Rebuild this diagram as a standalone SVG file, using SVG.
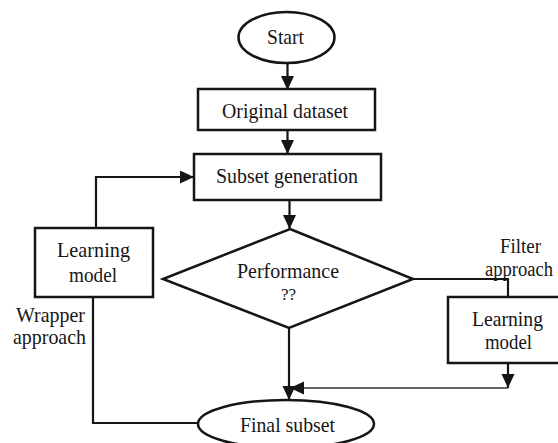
<svg xmlns="http://www.w3.org/2000/svg" width="558" height="443" viewBox="0 0 558 443">
<style>
.shape{fill:#fff;stroke:#151515;stroke-width:2.5}
.line{fill:none;stroke:#151515;stroke-width:2.2}
.thin{fill:none;stroke:#333;stroke-width:1.3}
text{font-family:"Liberation Serif","Times New Roman",serif;font-size:21.5px;fill:#161616;text-anchor:middle}
</style>
<defs>
<marker id="ah" markerUnits="userSpaceOnUse" markerWidth="14" markerHeight="14" refX="14" refY="6.5" orient="auto">
<path d="M0,0 L14,6.5 L0,13 z" fill="#151515"/>
</marker>
</defs>
<rect width="558" height="443" fill="#fff"/>
<g id="connectors">
<path class="line" d="M287.5,63 L287.5,90" marker-end="url(#ah)"/>
<path class="line" d="M287.5,130 L287.5,154" marker-end="url(#ah)"/>
<path class="line" d="M289.5,200 L289.5,229" marker-end="url(#ah)"/>
<path class="line" d="M96,228 L96,177 L194,177" marker-end="url(#ah)"/>
<path class="line" d="M413,279 L508,279 L508,297"/>
<path class="line" d="M508,363 L508,388" marker-end="url(#ah)"/>
<path class="thin" d="M508,388 L290,388" marker-end="url(#ah)"/>
<path class="line" d="M289,328 L289,400" marker-end="url(#ah)"/>
<path class="line" d="M198,423 L93,423 L93,297"/>
</g>
<g id="start">
<ellipse class="shape" cx="286.5" cy="37.5" rx="48" ry="25.5"/>
<text x="285.5" y="44" textLength="37" lengthAdjust="spacingAndGlyphs">Start</text>
</g>
<g id="original-dataset">
<rect class="shape" x="198" y="89" width="177" height="41"/>
<text x="285" y="118" textLength="126" lengthAdjust="spacingAndGlyphs">Original dataset</text>
</g>
<g id="subset-generation">
<rect class="shape" x="194" y="154" width="187" height="46"/>
<text x="287" y="183" textLength="142" lengthAdjust="spacingAndGlyphs">Subset generation</text>
</g>
<g id="performance">
<polygon class="shape" points="290,229 413,279 289,328 163,279"/>
<text x="288" y="278" textLength="102" lengthAdjust="spacingAndGlyphs">Performance</text>
<text x="288.5" y="300" style="font-size:17px">??</text>
</g>
<g id="learning-model-wrapper">
<rect class="shape" x="35" y="228" width="118" height="69"/>
<text x="93.5" y="257" textLength="73" lengthAdjust="spacingAndGlyphs">Learning</text>
<text x="93" y="282" textLength="48" lengthAdjust="spacingAndGlyphs">model</text>
</g>
<g id="learning-model-filter">
<rect class="shape" x="448" y="297" width="118" height="66"/>
<text x="507.5" y="326" textLength="71" lengthAdjust="spacingAndGlyphs">Learning</text>
<text x="508.5" y="349" textLength="47" lengthAdjust="spacingAndGlyphs">model</text>
</g>
<g id="final-subset">
<ellipse class="shape" cx="286" cy="424" rx="88" ry="24"/>
<text x="287.5" y="432" textLength="95" lengthAdjust="spacingAndGlyphs">Final subset</text>
</g>
<g id="labels">
<text x="50.5" y="322" textLength="69" lengthAdjust="spacingAndGlyphs">Wrapper</text>
<text x="49.5" y="344" textLength="73" lengthAdjust="spacingAndGlyphs">approach</text>
<text x="520.5" y="253" textLength="41" lengthAdjust="spacingAndGlyphs">Filter</text>
<text x="519" y="276" style="font-size:20px" textLength="68" lengthAdjust="spacingAndGlyphs">approach</text>
</g>
</svg>
